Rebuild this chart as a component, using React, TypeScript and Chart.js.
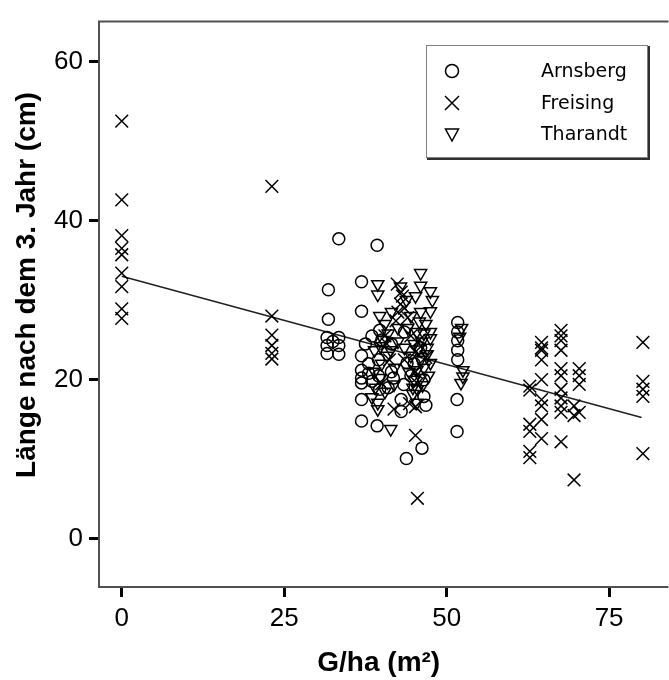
import React, { useEffect, useRef } from 'react';
import { Chart, registerables } from 'chart.js';

Chart.register(...registerables);

// ---- Data ----
const seriesNames = ['Arnsberg', 'Freising', 'Tharandt'];

const arnsbergX = [31.8, 31.8, 31.6, 31.6, 31.6, 33.4, 33.4, 33.4, 33.4, 32.5,
  36.9, 36.9, 36.9, 36.9, 36.9, 36.9, 36.9, 36.9,
  39.3, 39.3, 39.7, 39.7, 39.5, 39.5, 38.5,
  41.5, 41.5, 41.0,
  43.4, 43.9, 43.8, 43.5, 43.0,
  46.2, 46.5, 46.5, 46.0, 46.3,
  51.7, 51.7, 51.7, 51.7, 51.7, 51.6, 51.6,
  38.0, 38.0, 37.5, 38.5, 40.0, 41.8, 44.5, 45.0, 46.8, 43.0];
const arnsbergY = [31.3, 27.6, 25.3, 24.3, 23.3, 37.7, 25.3, 24.3, 23.2, 24.8,
  32.3, 28.6, 21.2, 20.2, 19.6, 17.5, 14.8, 23.0,
  36.9, 14.2, 26.2, 18.8, 22.5, 20.5, 19.8,
  24.5, 21.0, 19.0,
  19.4, 22.1, 10.1, 26.0, 17.5,
  11.4, 17.9, 20.0, 24.0, 22.6,
  27.2, 26.0, 24.9, 23.7, 22.5, 17.5, 13.5,
  22.0, 20.8, 24.5, 25.5, 25.0, 20.2, 20.5, 22.0, 16.8, 16.0];

const freisingX = [0, 0, 0, 0, 0, 0, 0, 0, 0,
  23.1, 23.1, 23.1, 23.1, 23.1, 23.1,
  42.4, 42.9, 42.2, 43.2, 41.9, 45.2, 45.2, 45.2, 45.2, 45.5, 44.5, 43.5, 40.5, 40.0,
  43.0, 43.5, 44.0, 42.5, 45.8, 46.8, 45.5, 41.2, 40.8, 44.3,
  62.8, 62.8, 62.8, 62.8, 62.8, 62.8,
  64.6, 64.6, 64.6, 64.6, 64.6, 64.6, 64.6, 64.6, 64.6,
  67.6, 67.6, 67.6, 67.6, 67.6, 67.6, 67.6, 67.6, 67.6, 67.6, 67.6,
  69.6, 69.6, 69.6,
  70.4, 70.4, 70.4, 70.4,
  80.2, 80.2, 80.2, 80.2, 80.2];
const freisingY = [52.5, 42.6, 38.1, 36.5, 35.7, 33.4, 31.7, 28.9, 27.7,
  44.3, 28.0, 25.6, 24.3, 23.3, 22.6,
  32.0, 29.5, 27.4, 30.5, 16.3, 23.5, 21.0, 16.6, 13.0, 5.1, 25.5, 22.5, 25.5, 19.5,
  31.0, 29.0, 27.8, 28.5, 25.0, 22.8, 19.5, 22.5, 24.5, 17.0,
  19.2, 14.4, 13.5, 11.0, 10.2, 18.7,
  24.7, 23.7, 22.5, 20.0, 17.5, 16.7, 15.0, 12.6, 24.0,
  26.2, 24.9, 23.7, 21.4, 20.5, 18.8, 17.7, 16.7, 15.9, 12.2, 25.5,
  16.7, 15.5, 7.4,
  21.4, 20.5, 19.4, 15.9,
  24.7, 19.8, 18.8, 17.9, 10.7];

const tharandtX = [39.4, 39.4, 39.7, 38.9, 38.9, 39.4, 39.4, 40.2, 40.0,
  41.4, 41.9, 41.4, 42.9, 42.5, 42.0,
  45.2, 46.0, 46.0, 45.4, 46.5, 46.0, 45.4, 46.0, 45.4, 45.0, 44.5, 44.8,
  47.5, 47.5, 47.5, 47.5, 47.0, 47.2,
  52.0, 52.5, 52.5, 52.3, 52.2,
  40.5, 41.0, 40.8, 39.8, 40.5, 41.5, 43.8, 44.5, 44.0, 45.8, 46.8, 46.2, 45.6, 47.0,
  46.5, 45.0, 44.2, 44.8, 45.5, 46.3, 47.5, 43.5, 42.5, 46.0, 47.8, 39.0, 38.5, 39.8];
const tharandtY = [32.0, 30.7, 28.0, 23.7, 21.0, 17.1, 16.3, 25.0, 22.0,
  23.7, 19.4, 13.8, 31.7, 26.5, 21.5,
  30.5, 33.4, 28.5, 26.0, 25.8, 22.5, 21.2, 20.2, 17.1, 24.5, 23.0, 19.0,
  31.1, 28.6, 26.0, 22.1, 24.0, 20.5,
  25.4, 21.2, 20.4, 26.5, 19.6,
  27.0, 25.8, 23.0, 20.2, 18.5, 28.5, 30.0, 28.0, 26.5, 27.3, 27.0, 24.8, 23.8, 23.2,
  21.5, 20.0, 21.0, 18.2, 18.8, 19.3, 25.2, 24.0, 24.8, 31.8, 30.0, 19.0, 17.8, 24.2];

// fit line end points
const fitX = [0, 80];
const fitY = [33.0, 15.25];

const xTicks = [0, 25, 50, 75];
const yTicks = [0, 20, 40, 60];

const xTitle = 'G/ha (m²)';
const yTitle = 'Länge nach dem 3. Jahr (cm)';

const toPoints = (xs: number[], ys: number[]) => xs.map((x, i) => ({ x, y: ys[i] }));

const framePlugin = {
  id: 'frameAndLegend',
  beforeDatasetsDraw(chart: any) {
    const { ctx, chartArea } = chart;
    const { left, top, right, bottom } = chartArea;
    ctx.save();
    ctx.strokeStyle = '#505050';
    ctx.lineWidth = 2;
    ctx.beginPath();
    ctx.moveTo(right + 10, top);
    ctx.lineTo(left, top);
    ctx.lineTo(left, bottom);
    ctx.lineTo(right + 10, bottom);
    ctx.stroke();
    ctx.restore();
  },
  afterDraw(chart: any) {
    const { ctx } = chart;
    // y axis title (rotated)
    ctx.save();
    ctx.translate(27, 285);
    ctx.rotate(-Math.PI / 2);
    ctx.fillStyle = '#000';
    ctx.font = 'bold 28px "Liberation Sans", Arial, sans-serif';
    ctx.textAlign = 'center';
    ctx.textBaseline = 'middle';
    ctx.fillText(yTitle, 0, 0);
    ctx.restore();

    const bx = 426, by = 45, bw = 221, bh = 112;
    ctx.save();
    ctx.fillStyle = '#ffffff';
    ctx.fillRect(bx, by, bw, bh);
    ctx.strokeStyle = '#808080';
    ctx.lineWidth = 1;
    ctx.strokeRect(bx + 0.5, by + 0.5, bw, bh);
    ctx.strokeStyle = '#303030';
    ctx.lineWidth = 2;
    ctx.beginPath();
    ctx.moveTo(bx + bw + 2, by + 1);
    ctx.lineTo(bx + bw + 2, by + bh + 2);
    ctx.lineTo(bx + 1, by + bh + 2);
    ctx.stroke();

    const mx = 452;
    const rows = [71, 103, 134];
    ctx.strokeStyle = '#000';
    ctx.lineWidth = 1.5;
    ctx.beginPath();
    ctx.arc(mx, rows[0], 6.5, 0, Math.PI * 2);
    ctx.stroke();
    ctx.beginPath();
    ctx.moveTo(mx - 7, rows[1] - 7);
    ctx.lineTo(mx + 7, rows[1] + 7);
    ctx.moveTo(mx + 7, rows[1] - 7);
    ctx.lineTo(mx - 7, rows[1] + 7);
    ctx.stroke();
    ctx.beginPath();
    ctx.moveTo(mx - 6.5, rows[2] - 5);
    ctx.lineTo(mx + 6.5, rows[2] - 5);
    ctx.lineTo(mx, rows[2] + 7);
    ctx.closePath();
    ctx.stroke();

    ctx.fillStyle = '#000';
    ctx.font = '19px "DejaVu Sans", sans-serif';
    ctx.textBaseline = 'middle';
    ctx.textAlign = 'left';
    seriesNames.forEach((n, i) => ctx.fillText(n, 541, rows[i] + 1));
    ctx.restore();
  },
};

export default function App() {
  const ref = useRef<HTMLCanvasElement | null>(null);

  useEffect(() => {
    if (!ref.current) return;
    const tickFont = { family: '"Liberation Sans", Arial, sans-serif', size: 26 };
    const titleFont = { family: '"Liberation Sans", Arial, sans-serif', size: 28, weight: 'bold' as const };
    const chart = new Chart(ref.current, {
      type: 'scatter',
      data: {
        datasets: [
          {
            label: seriesNames[0],
            data: toPoints(arnsbergX, arnsbergY),
            pointStyle: 'circle',
            pointRadius: 6,
            borderColor: '#000',
            backgroundColor: 'transparent',
            borderWidth: 1.5,
          },
          {
            label: seriesNames[1],
            data: toPoints(freisingX, freisingY),
            pointStyle: 'crossRot',
            pointRadius: 9,
            borderColor: '#000',
            backgroundColor: 'transparent',
            borderWidth: 1.5,
          },
          {
            label: seriesNames[2],
            data: toPoints(tharandtX, tharandtY),
            pointStyle: 'triangle',
            rotation: 180,
            pointRadius: 7,
            borderColor: '#000',
            backgroundColor: 'transparent',
            borderWidth: 1.5,
          },
          {
            type: 'line',
            label: 'fit',
            data: toPoints(fitX, fitY),
            borderColor: '#202020',
            borderWidth: 1.5,
            pointRadius: 0,
            fill: false,
          } as any,
        ],
      },
      options: {
        responsive: false,
        animation: false,
        devicePixelRatio: 1,
        layout: { padding: { top: 13, right: 0, left: 0, bottom: 0 } },
        plugins: {
          legend: { display: false },
          tooltip: { enabled: false },
        },
        scales: {
          x: {
            type: 'linear',
            min: -3.5,
            max: 82.6,
            afterBuildTicks: (scale: any) => {
              scale.ticks = xTicks.map((v) => ({ value: v }));
            },
            afterFit: (scale: any) => {
              scale.height = 93;
            },
            grid: { drawOnChartArea: false, drawTicks: true, tickLength: 10, tickWidth: 3, tickColor: '#000' },
            border: { display: false },
            ticks: { font: tickFont, color: '#000', padding: 6, maxRotation: 0, autoSkip: false },
            title: { display: true, text: xTitle, font: titleFont, color: '#000', padding: { top: 0, bottom: 0 } },
          },
          y: {
            type: 'linear',
            min: -6.05,
            max: 65.0,
            afterBuildTicks: (scale: any) => {
              scale.ticks = yTicks.map((v) => ({ value: v }));
            },
            afterFit: (scale: any) => {
              scale.width = 99;
            },
            grid: { drawOnChartArea: false, drawTicks: true, tickLength: 10, tickWidth: 3, tickColor: '#000' },
            border: { display: false },
            ticks: { font: tickFont, color: '#000', padding: 6, autoSkip: false },
            title: { display: false, text: yTitle },
          },
        },
      },
      plugins: [framePlugin],
    });
    return () => chart.destroy();
  }, []);

  return (
    <div style={{ position: 'absolute', left: 0, top: 0, width: 669, height: 680, background: '#fff' }}>
      <canvas ref={ref} width={669} height={680} style={{ width: 669, height: 680, display: 'block' }} />
    </div>
  );
}
